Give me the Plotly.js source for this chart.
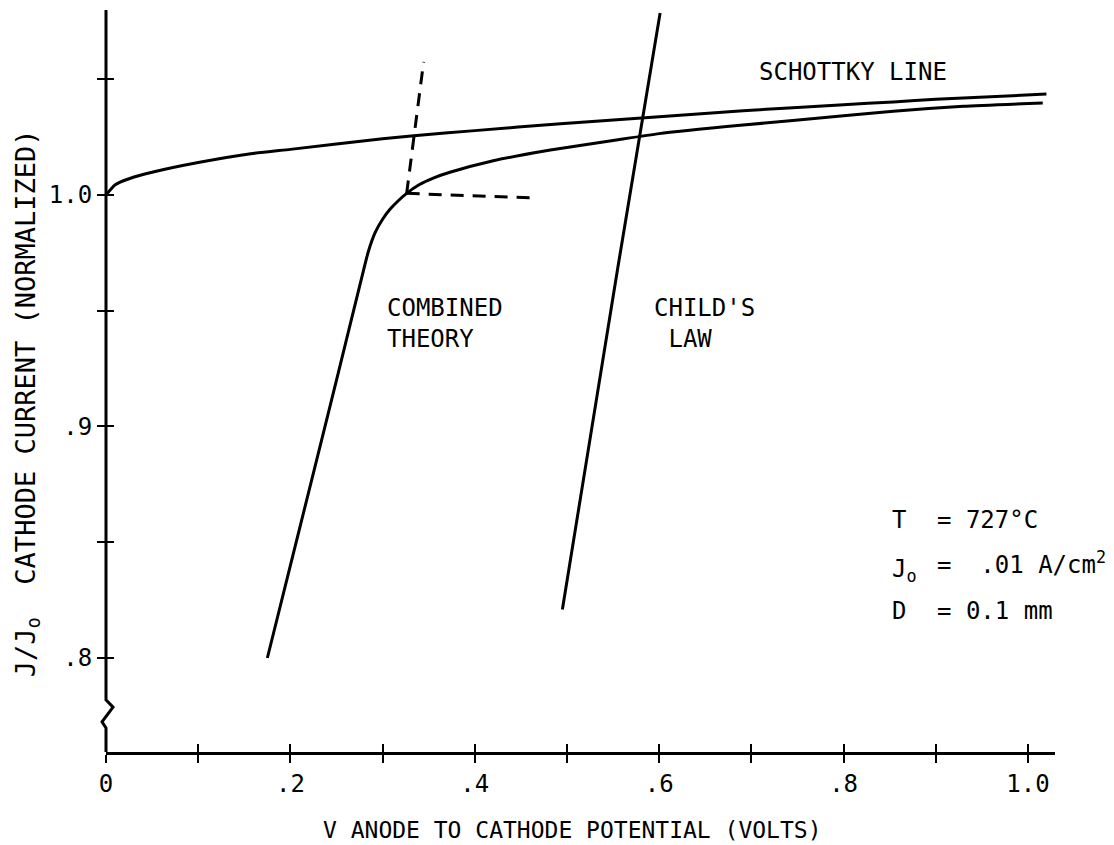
<!DOCTYPE html>
<html>
<head>
<meta charset="utf-8">
<script src="https://cdn.plot.ly/plotly-3.0.1.min.js"></script>
<style>html,body{margin:0;padding:0;background:#fff;}#chart{width:1114px;height:845px;}</style>
</head>
<body>
<div id="chart"></div>
<script>
// ---- data ----
const schottkyV = [0, 0.01, 0.025, 0.05, 0.1, 0.157, 0.2, 0.3, 0.334, 0.4, 0.493, 0.6, 0.691, 0.8, 0.854, 0.9, 1.02];
const schottkyJ = [1.0, 1.0044, 1.007, 1.0098, 1.014, 1.0178, 1.0197, 1.0243, 1.0256, 1.0278, 1.0308, 1.0338, 1.0364, 1.039, 1.0402, 1.0413, 1.0436];

const combinedV = [0.175, 0.2, 0.25, 0.2787, 0.2845, 0.292, 0.300, 0.308, 0.317, 0.3261, 0.34, 0.355, 0.373, 0.42, 0.482, 0.55, 0.6, 0.691, 0.8, 0.854, 0.93, 1.016];
const combinedJ = [0.800, 0.840, 0.920, 0.9665, 0.9755, 0.9838, 0.9895, 0.9938, 0.9975, 1.0007, 1.0045, 1.0073, 1.0098, 1.0148, 1.0194, 1.0235, 1.0265, 1.0302, 1.0342, 1.0362, 1.0383, 1.0397];

const childV = [0.495, 0.5547, 0.601];
const childJ = [0.821, 0.9676, 1.0786];

const asymVertV = [0.3261, 0.3445];
const asymVertJ = [1.0007, 1.0575];
const asymHorzV = [0.3261, 0.464];
const asymHorzJ = [1.0007, 0.9987];

const xTickVals = [0, 0.2, 0.4, 0.6, 0.8, 1.0];
const xTickText = ['0', '.2', '.4', '.6', '.8', '1.0'];
const xAllTicks = [0, 0.1, 0.2, 0.3, 0.4, 0.5, 0.6, 0.7, 0.8, 0.9, 1.0];
const yTickVals = [0.8, 0.9, 1.0];
const yTickText = ['.8', '.9', '1.0'];
const yAllTicks = [0.8, 0.85, 0.9, 0.95, 1.0, 1.05];

const xRange = [0, 1.0293];
const yRange = [0.7594, 1.0799];
// value-axis line with its break (zig-zag), in paper fractions
const breakX = [0, 0, 0.0074, -0.0042, 0, 0];
const breakY = [1, 0.0702, 0.0605, 0.0406, 0.0324, 0];

const FONT = 'DejaVu Sans Mono, monospace';
const black = '#000';

const traces = [
  {x: schottkyV, y: schottkyJ, mode: 'lines', line: {color: black, width: 3, shape: 'spline', smoothing: 0.5}, hoverinfo: 'skip'},
  {x: combinedV, y: combinedJ, mode: 'lines', line: {color: black, width: 3, shape: 'spline', smoothing: 0.5}, hoverinfo: 'skip'},
  {x: childV, y: childJ, mode: 'lines', line: {color: black, width: 3}, hoverinfo: 'skip'},
  {x: asymVertV, y: asymVertJ, mode: 'lines', line: {color: black, width: 3, dash: '13px,9px'}, hoverinfo: 'skip'},
  {x: asymHorzV, y: asymHorzJ, mode: 'lines', line: {color: black, width: 3, dash: '13px,9px'}, hoverinfo: 'skip'},
  {x: [0.5], y: [0.9], xaxis: 'x2', yaxis: 'y2', mode: 'markers', marker: {opacity: 0}, hoverinfo: 'skip'}
];

const breakPath = 'M ' + breakX.map((v, i) => v + ',' + breakY[i]).join(' L ');

const layout = {
  width: 1114, height: 845,
  margin: {l: 106, r: 59, t: 10, b: 93},
  paper_bgcolor: '#fff', plot_bgcolor: '#fff',
  showlegend: false,
  font: {family: FONT, size: 24, color: black},
  xaxis: {
    range: xRange, showgrid: false, zeroline: false,
    showline: true, linewidth: 3, linecolor: black,
    ticks: 'outside', ticklen: 8, tickwidth: 2, tickcolor: black,
    tickmode: 'array', tickvals: xTickVals, ticktext: xTickText,
    minor: {tickmode: 'array', tickvals: xAllTicks, ticks: 'outside', ticklen: 8, tickwidth: 2, tickcolor: black, showgrid: false},
    tickfont: {family: FONT, size: 24, color: black}
  },
  yaxis: {
    range: yRange, showgrid: false, zeroline: false,
    showline: false,
    ticks: 'outside', ticklen: 8, tickwidth: 2, tickcolor: black,
    tickmode: 'array', tickvals: yTickVals, ticktext: yTickText,
    minor: {tickmode: 'array', tickvals: yAllTicks, ticks: 'outside', ticklen: 8, tickwidth: 2, tickcolor: black, showgrid: false},
    tickfont: {family: FONT, size: 24, color: black}
  },
  xaxis2: {
    overlaying: 'x', range: xRange, showgrid: false, zeroline: false, showline: false,
    ticks: 'inside', ticklen: 8, tickwidth: 2, tickcolor: black,
    tickmode: 'array', tickvals: xAllTicks, showticklabels: false
  },
  yaxis2: {
    overlaying: 'y', range: yRange, showgrid: false, zeroline: false, showline: false,
    ticks: 'inside', ticklen: 8, tickwidth: 2, tickcolor: black,
    tickmode: 'array', tickvals: yAllTicks, showticklabels: false
  },
  shapes: [
    {type: 'path', xref: 'paper', yref: 'paper', path: breakPath, line: {color: black, width: 3}, layer: 'above'}
  ],
  annotations: [
    {text: 'SCHOTTKY LINE', x: 0.810, y: 1.0531, xref: 'x', yref: 'y', showarrow: false, xanchor: 'center', yanchor: 'middle', font: {size: 24}},
    {text: 'COMBINED<br>THEORY', x: 0.3026, y: 0.9447, xref: 'x', yref: 'y', showarrow: false, xanchor: 'left', yanchor: 'middle', align: 'left', font: {size: 24}},
    {text: "CHILD'S<br>\u00A0LAW", x: 0.592, y: 0.9447, xref: 'x', yref: 'y', showarrow: false, xanchor: 'left', yanchor: 'middle', align: 'left', font: {size: 24}},
    {text: 'T', x: 0.8503, y: 0.8596, xref: 'x', yref: 'y', showarrow: false, xanchor: 'left', yanchor: 'middle', font: {size: 24}},
    {text: '= 727°C', x: 0.899, y: 0.8596, xref: 'x', yref: 'y', showarrow: false, xanchor: 'left', yanchor: 'middle', font: {size: 24}},
    {text: 'J<sub>o</sub>', x: 0.8503, y: 0.8393, xref: 'x', yref: 'y', showarrow: false, xanchor: 'left', yanchor: 'top', yshift: 14, font: {size: 24}},
    {text: '=  .01 A/cm<sup>2</sup>', x: 0.899, y: 0.8393, xref: 'x', yref: 'y', showarrow: false, xanchor: 'left', yanchor: 'bottom', yshift: -14, font: {size: 24}},
    {text: 'D', x: 0.8503, y: 0.8203, xref: 'x', yref: 'y', showarrow: false, xanchor: 'left', yanchor: 'middle', font: {size: 24}},
    {text: '= 0.1 mm', x: 0.899, y: 0.8203, xref: 'x', yref: 'y', showarrow: false, xanchor: 'left', yanchor: 'middle', font: {size: 24}},
    {text: 'V ANODE TO CATHODE POTENTIAL (VOLTS)', x: 0.492, y: -0.105, xref: 'paper', yref: 'paper', showarrow: false, xanchor: 'center', yanchor: 'middle', font: {size: 23}},
    {text: 'J/J<sub>o</sub>  CATHODE CURRENT (NORMALIZED)', x: -0.0832, y: 0.47, xref: 'paper', yref: 'paper', showarrow: false, textangle: -90, xanchor: 'center', yanchor: 'middle', font: {size: 27}}
  ]
};

Plotly.newPlot('chart', traces, layout, {staticPlot: true, displayModeBar: false});
</script>
</body>
</html>
